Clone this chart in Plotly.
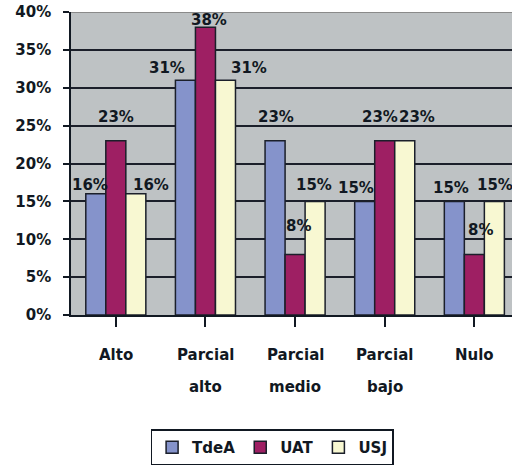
import plotly.graph_objects as go

categories = ["Alto", "Parcial alto", "Parcial medio", "Parcial bajo", "Nulo"]
series_names = ["TdeA", "UAT", "USJ"]
tdea = [16, 31, 23, 15, 15]
uat = [23, 38, 8, 23, 8]
usj = [16, 31, 15, 23, 15]
y_ticks = [0, 5, 10, 15, 20, 25, 30, 35, 40]
y_tick_labels = [f"{v}%" for v in y_ticks]

# styling: pixel nudges of each data label (per series, per category), as in the original
label_dx = [[-6, -18, 1, -9, -3], [0, 4, 3, -5, 6], [15, 24, -1, 12, 1]]
label_dy = [[9, 12, 24, 13, 13], [24, 7, 28, 24, 24], [9, 12, 16, 24, 16]]

colors = ["#8593CB", "#9E1F63", "#F8F8D2"]
FONT = "DejaVu Sans"
TXT = "#111822"
FS = 15
BARGAP = 0.33
bw = (1 - BARGAP) / 3

fig = go.Figure()
all_vals = [tdea, uat, usj]
for name, vals, col in zip(series_names, all_vals, colors):
    fig.add_trace(go.Bar(
        x=list(range(len(categories))), y=vals, name=f"<b>{name}</b>",
        marker=dict(color=col, line=dict(color="#1B1F2A", width=1.5)),
        cliponaxis=False,
    ))

annotations = []
for k, vals in enumerate(all_vals):
    for i, v in enumerate(vals):
        annotations.append(dict(
            x=i + (k - 1) * bw, y=v, xref="x", yref="y",
            text=f"<b>{v}%</b>", showarrow=False, yanchor="middle", xanchor="center",
            xshift=label_dx[k][i], yshift=label_dy[k][i],
            font=dict(family=FONT, size=FS, color=TXT),
        ))
for i, c in enumerate(categories):
    words = c.split(" ")
    for j, w in enumerate(words):
        annotations.append(dict(
            x=i, y=0, xref="x", yref="paper", text=f"<b>{w}</b>", showarrow=False,
            yanchor="middle", xanchor="center", yshift=-40 - 32 * j,
            font=dict(family=FONT, size=FS, color=TXT),
        ))

fig.update_layout(
    width=512, height=470,
    margin=dict(l=71, r=0, t=12, b=155),
    paper_bgcolor="white", plot_bgcolor="#BEC2C4",
    barmode="group", bargap=BARGAP, bargroupgap=0,
    font=dict(family=FONT, size=FS, color=TXT),
    showlegend=True,
    legend=dict(orientation="h", x=0.456, xanchor="center", y=-0.437, yanchor="middle",
                bordercolor=TXT, borderwidth=1.5, bgcolor="white",
                font=dict(family=FONT, size=FS, color=TXT),
                itemwidth=30, tracegroupgap=0),
    xaxis=dict(tickmode="array", tickvals=list(range(len(categories))),
               ticktext=["" for _ in categories], automargin=False,
               range=[-0.5, 4.42], tickson="boundaries", ticks="outside", ticklen=10,
               tickcolor=TXT, tickwidth=1.5,
               showline=True, linecolor=TXT, linewidth=1.5, showgrid=False),
    yaxis=dict(range=[0, 40], tickmode="array", tickvals=y_ticks, automargin=False,
               ticktext=[f"<b>{t}</b>" for t in y_tick_labels],
               ticks="outside", ticklen=6, tickcolor=TXT, tickwidth=1.5,
               ticklabelstandoff=9, ticklabeloverflow="allow",
               showline=True, linecolor=TXT, linewidth=1.5,
               showgrid=True, gridcolor="#1B1F2A", gridwidth=1.5,
               zeroline=False, tickfont=dict(family=FONT, size=FS, color=TXT)),
    annotations=annotations,
)
fig.add_shape(type="line", xref="paper", yref="y", x0=0, x1=1, y0=40, y1=40,
              line=dict(color="#8A8A8A", width=2), layer="above")
fig.write_html("out.html", config={"displayModeBar": False},
               post_script="document.body.style.margin='0';document.body.style.overflow='hidden';")
